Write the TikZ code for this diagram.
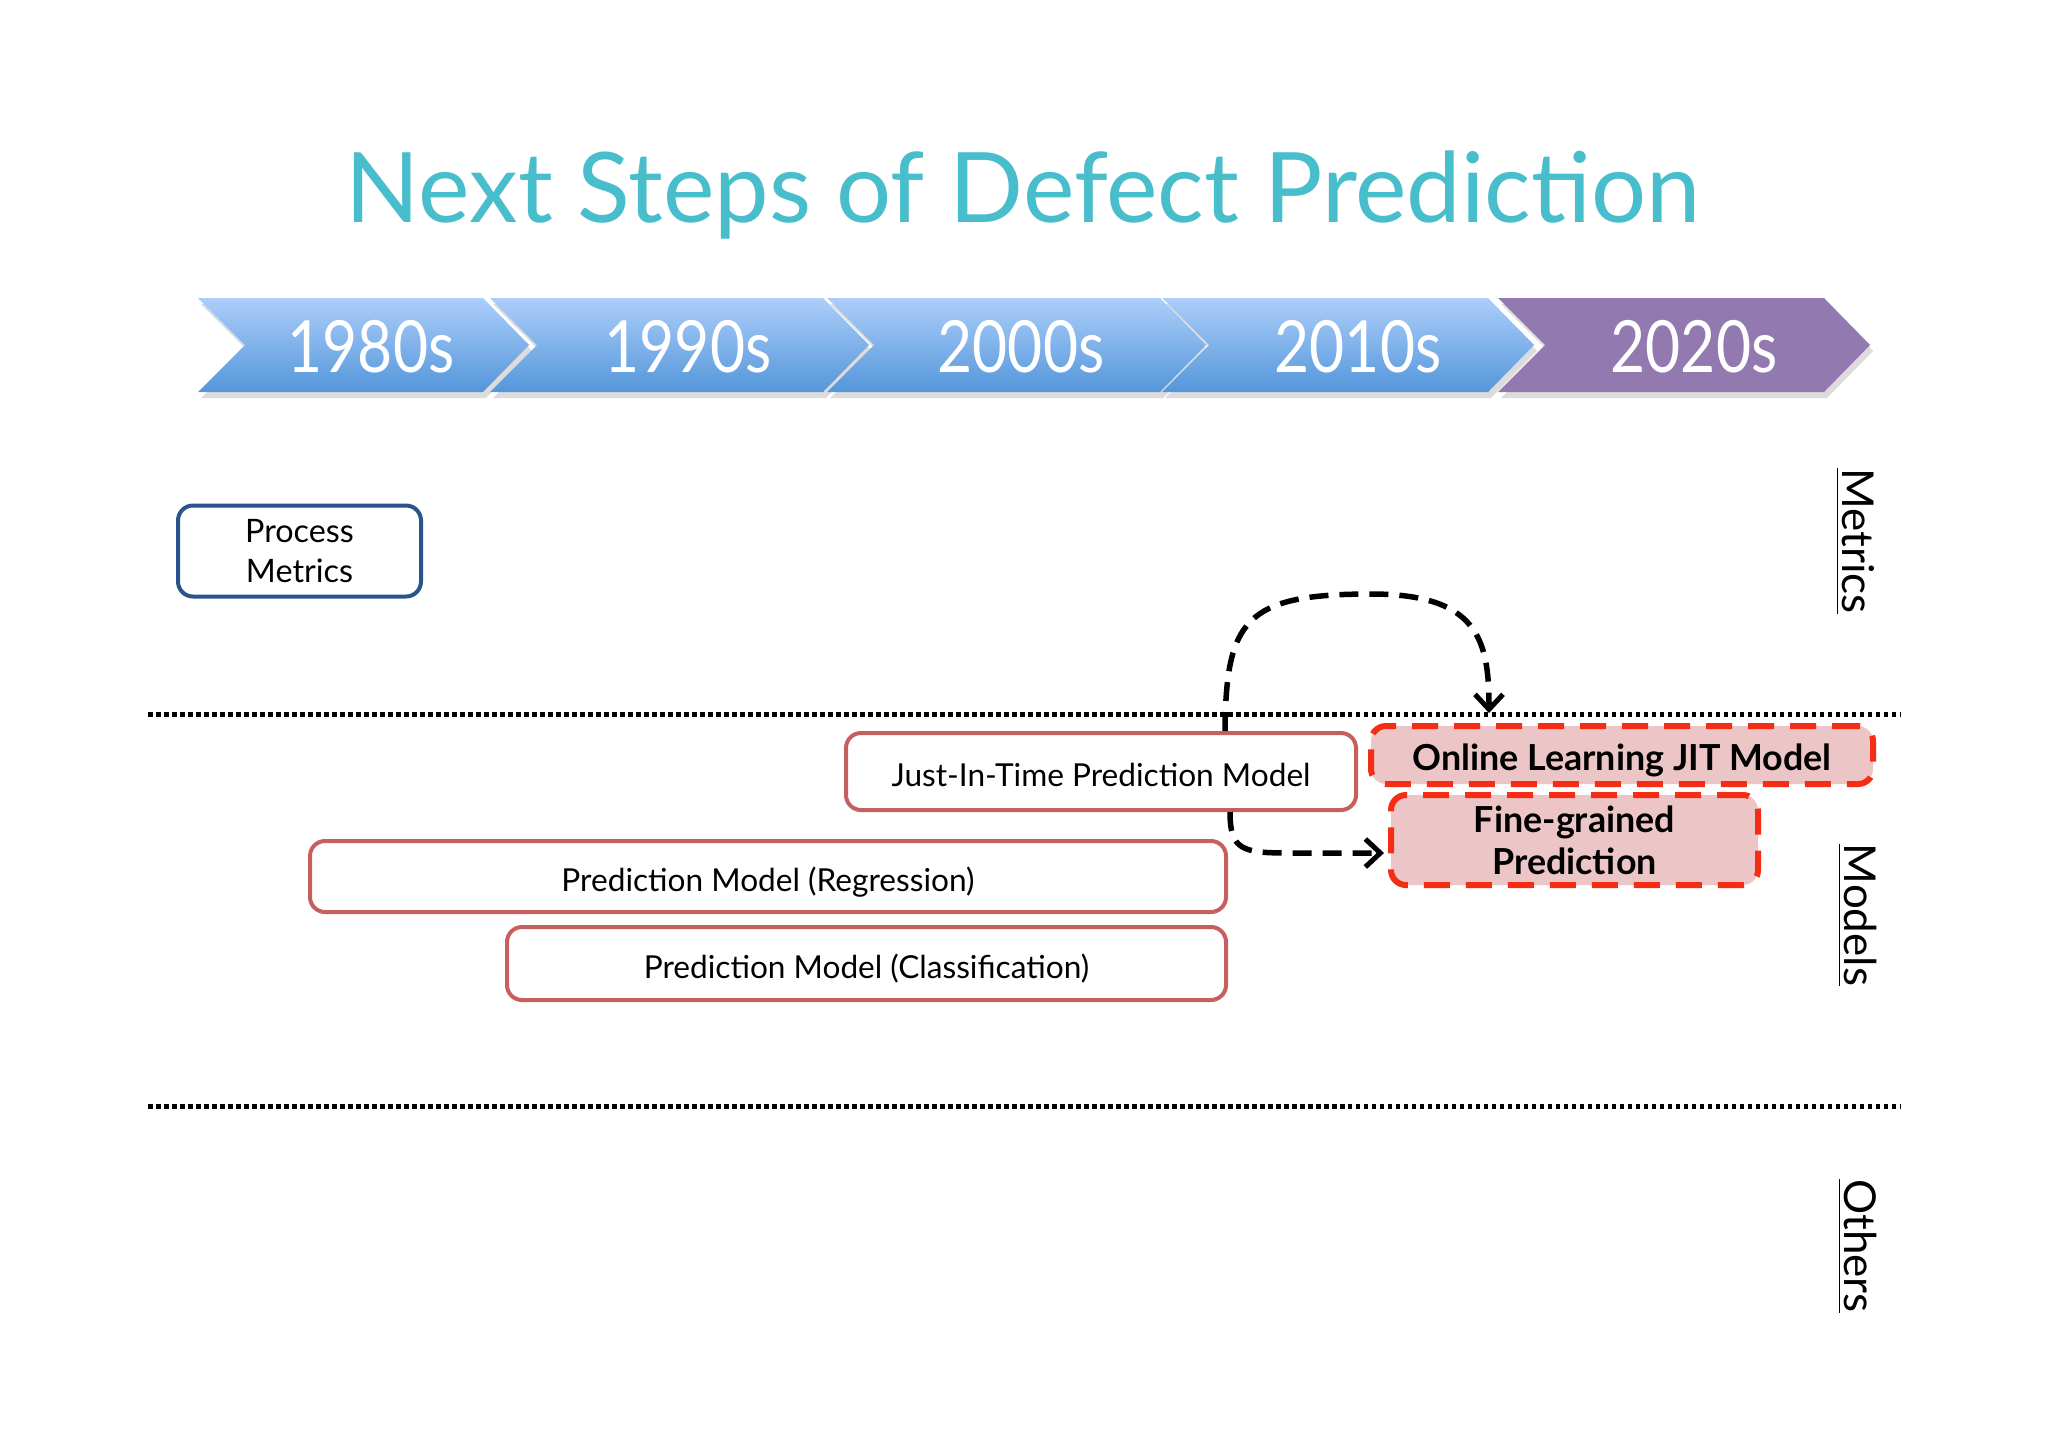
\documentclass[tikz,border=0pt]{standalone}
\usepackage{fontspec}
\setmainfont{Lato}
\newfontfamily\chevfont[FakeStretch=0.84]{Lato}
\usetikzlibrary{calc,arrows.meta}
\definecolor{titlec}{RGB}{72,189,204}
\definecolor{chevtop}{RGB}{172,206,250}
\definecolor{chevbot}{RGB}{84,150,218}
\definecolor{purp}{RGB}{146,121,176}
\definecolor{pmblue}{RGB}{42,85,140}
\definecolor{boxred}{RGB}{200,95,95}
\definecolor{dashred}{RGB}{245,45,20}
\definecolor{pinkfill}{RGB}{236,198,198}
\begin{document}
\begin{tikzpicture}[x=0.1mm,y=-0.1mm,
  chevshadow/.style={fill=black!30,opacity=0.45},
  bluechev/.style={top color=chevtop,bottom color=chevbot},
  purpchev/.style={fill=purp},
  chevtext/.style={text=white,font=\chevfont\fontsize{20.5}{24}\selectfont,anchor=base,inner sep=0pt},
  pmbox/.style={draw=pmblue,line width=0.4mm,rounded corners=1.5mm,fill=white,align=center,
     font=\fontsize{9.2}{11.2}\selectfont,inner sep=0pt},
  redbox/.style={draw=boxred,line width=0.4mm,rounded corners=1.5mm,fill=white,
     font=\fontsize{9}{11}\selectfont,inner sep=0pt,text height=3.2mm,text depth=0.3mm},
  newbox/.style={draw=dashred,line width=0.6mm,dash pattern=on 2.6mm off 1.6mm,rounded corners=1.5mm,
     fill=pinkfill,align=center,font=\bfseries\fontsize{10.2}{12}\selectfont,inner sep=0pt},
  sep/.style={line width=0.5mm,dash pattern=on 0.45mm off 0.35mm},
  side/.style={rotate=-90,font=\fontsize{12.5}{14}\selectfont},
  conn/.style={line width=0.55mm,dash pattern=on 1.9mm off 1.1mm,-{Straight Barb[length=1.5mm,width=2.8mm,line width=0.5mm]}}
]
\useasboundingbox (0,0) rectangle (2048,1447);
\fill[white] (0,0) rectangle (2048,1447);

% title
\node[text=titlec,font=\fontsize{27.7}{33}\selectfont,anchor=base,inner sep=0pt] (title) at (1023,222) {Next Steps of Defect Prediction};

% chevron shadows
\foreach \L/\R/\T in {198/483/529,490/823/869,827/1160/1206,1162/1488/1534,1498/1824/1870}{
  \fill[chevshadow] (\L+3,298+6) -- (\R+3,298+6) -- (\T+3,345+6) -- (\R+3,392+6) -- (\L+3,392+6) -- (\L+50,345+6) -- cycle;
}
% chevrons
\shade[bluechev] (198,298) -- (483,298) -- (529,345) -- (483,392) -- (198,392) -- (245,345) -- cycle;
\shade[bluechev] (490,298) -- (823,298) -- (869,345) -- (823,392) -- (490,392) -- (537,345) -- cycle;
\shade[bluechev] (827,298) -- (1160,298) -- (1206,345) -- (1160,392) -- (827,392) -- (874,345) -- cycle;
\shade[bluechev] (1162,298) -- (1488,298) -- (1534,345) -- (1488,392) -- (1162,392) -- (1209,345) -- cycle;
\fill[purpchev] (1498,298) -- (1824,298) -- (1870,345) -- (1824,392) -- (1498,392) -- (1545,345) -- cycle;

\node[chevtext] (c1) at (371,372) {1980s};
\node[chevtext] (c2) at (688,372) {1990s};
\node[chevtext] (c3) at (1021,372) {2000s};
\node[chevtext] (c4) at (1358,372) {2010s};
\node[chevtext] (c5) at (1694,372) {2020s};

% separators
\draw[sep] (148,714) -- (1900,714);
\draw[sep] (148,1106) -- (1900,1106);

% side labels
\node[side] (lm) at (1855,541) {\underline{Metrics}};
\node[side] (lmo) at (1857,915) {\underline{Models}};
\node[side] (lo) at (1857,1246) {\underline{Others}};

% boxes
\node[pmbox,minimum width=24.3mm,minimum height=9.1mm] (pm) at (299.5,551) {Process\\Metrics};
\node[redbox,minimum width=51mm,minimum height=7.7mm] (jit) at (1101,771.5) {Just-In-Time Prediction Model};
\node[redbox,minimum width=91.6mm,minimum height=7.1mm] (reg) at (768,876.5) {Prediction Model (Regression)};
\node[redbox,minimum width=71.9mm,minimum height=7.3mm] (cls) at (866.5,963.5) {Prediction Model (Classification)};
\node[newbox,minimum width=50.2mm,minimum height=5.8mm,text height=3.4mm,text depth=0.3mm] (online) at (1622,755) {Online Learning JIT Model};
\node[newbox,minimum width=36.7mm,minimum height=9mm] (fine) at (1574.5,840) {Fine-grained\\Prediction};

% connectors
\draw[conn] ($(jit.north)+(124,0)$) .. controls (1226,620) and (1245,594) .. (1371,594)
   .. controls (1478,594) and (1489,640) .. ($(online.north)+(-133,-10)$);
\draw[conn] ($(jit.south)+(129,0)$) .. controls (1230,850) and (1242,853) .. (1290,853) -- ($(fine.west)+(-4,13)$);
\end{tikzpicture}
\end{document}
